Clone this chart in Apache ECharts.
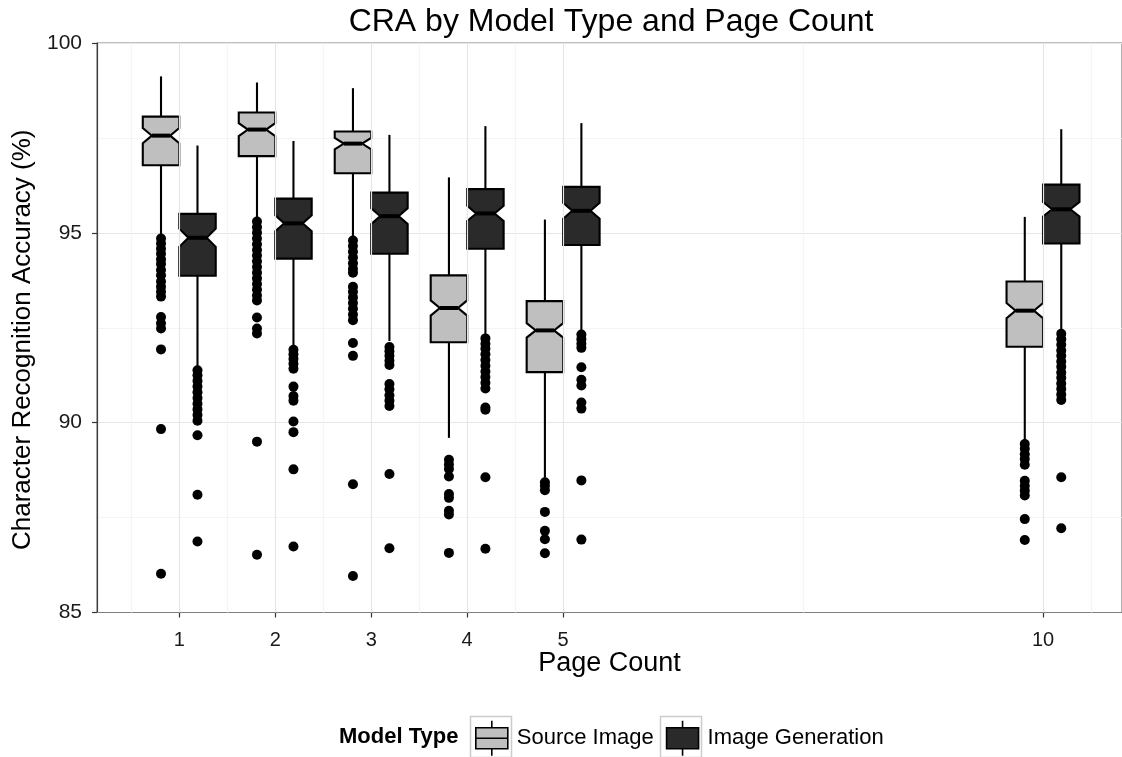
<!DOCTYPE html>
<html>
<head>
<meta charset="utf-8">
<script src="https://cdn.jsdelivr.net/npm/echarts@6/dist/echarts.min.js"></script>
<style>
html,body{margin:0;padding:0;background:#fff;}
#chart{width:1122px;height:757px;}
</style>
</head>
<body>
<div id="chart"></div>
<script>
// ---- data ----
const pages = [1, 2, 3, 4, 5, 10];
const xTickLabels = ['1', '2', '3', '4', '5', '10'];
const xMinorBreaks = [0.5, 1.5, 2.5, 3.5, 4.5, 7.5, 10.5];
const seriesNames = ['Source Image', 'Image Generation'];

// five-number summaries per page: [lower whisker, Q1, median, Q3, upper whisker]
const sourceBoxes = [
  [94.90, 96.78, 97.56, 98.06, 99.12],
  [95.35, 97.02, 97.72, 98.17, 98.96],
  [94.87, 96.57, 97.35, 97.67, 98.81],
  [89.60, 92.12, 93.02, 93.88, 96.46],
  [88.55, 91.33, 92.43, 93.20, 95.35],
  [89.50, 92.00, 92.95, 93.72, 95.42]
];
const generationBoxes = [
  [91.45, 93.87, 94.87, 95.50, 97.30],
  [91.98, 94.32, 95.25, 95.90, 97.42],
  [92.15, 94.45, 95.44, 96.06, 97.58],
  [92.30, 94.58, 95.51, 96.15, 97.81],
  [92.40, 94.68, 95.58, 96.21, 97.89],
  [92.43, 94.72, 95.62, 96.27, 97.73]
];
// notch half-heights (in %)
const sourceNotch = [0.20, 0.17, 0.15, 0.20, 0.19, 0.20];
const generationNotch = [0.24, 0.21, 0.21, 0.20, 0.21, 0.19];

// outliers per page
const sourceOutliers = [
  [94.85, 94.72, 94.58, 94.45, 94.30, 94.18, 94.02, 93.88, 93.72, 93.58, 93.45, 93.32, 92.78, 92.62, 92.48, 91.93, 89.83, 86.02],
  [95.30, 95.15, 95.00, 94.85, 94.70, 94.55, 94.40, 94.25, 94.10, 93.95, 93.80, 93.65, 93.50, 93.35, 93.22, 92.77, 92.48, 92.35, 89.50, 86.52],
  [94.80, 94.65, 94.50, 94.35, 94.20, 94.05, 93.95, 93.58, 93.45, 93.30, 93.15, 93.00, 92.85, 92.70, 92.10, 91.76, 88.38, 85.96],
  [89.02, 88.90, 88.78, 88.58, 88.12, 88.02, 87.68, 87.58, 86.57],
  [88.43, 88.34, 88.22, 87.65, 87.15, 86.93, 86.56],
  [89.44, 89.31, 89.17, 89.04, 88.89, 88.47, 88.34, 88.21, 88.08, 87.46, 86.91]
];
const generationOutliers = [
  [91.38, 91.25, 91.10, 90.95, 90.80, 90.65, 90.50, 90.35, 90.20, 90.05, 89.67, 88.10, 86.87],
  [91.92, 91.80, 91.68, 91.55, 91.42, 90.95, 90.70, 90.58, 90.03, 89.75, 88.77, 86.74],
  [91.99, 91.88, 91.76, 91.63, 91.52, 91.02, 90.88, 90.72, 90.58, 90.44, 88.65, 86.69],
  [92.22, 92.08, 91.95, 91.80, 91.65, 91.50, 91.35, 91.20, 91.05, 90.90, 90.40, 90.34, 88.56, 86.68],
  [92.32, 92.20, 92.08, 91.97, 91.46, 91.13, 90.98, 90.53, 90.37, 88.48, 86.92],
  [92.34, 92.20, 92.05, 91.90, 91.76, 91.61, 91.47, 91.32, 91.18, 91.03, 90.89, 90.74, 90.60, 88.56, 87.22]
];

// ---- styling constants ----
const FONT = '"Liberation Sans", Arial, Helvetica, sans-serif';
const COLORS = ['#bfbfbf', '#2a2a2a'];
const DODGE = 0.19;      // offset of each box from the page value
const HALF = 0.19;       // half box width
const NOTCH_INDENT = 0.25; // fraction of width removed on each side at the median
const LW = 2.1;

function boxData(boxes, notches) {
  return pages.map((p, i) => [p].concat(boxes[i]).concat([notches[i]]));
}
function outlierData(outs, offset) {
  const d = [];
  pages.forEach((p, i) => outs[i].forEach(v => d.push([p + offset, v])));
  return d;
}

function makeRender(offset, fill) {
  return function (params, api) {
    const x = api.value(0);
    const low = api.value(1), q1 = api.value(2), med = api.value(3), q3 = api.value(4), high = api.value(5), n = api.value(6);
    const cx = x + offset, x0 = cx - HALF, x1 = cx + HALF;
    const ind = HALF * 2 * NOTCH_INDENT;
    const P = (a, b) => api.coord([a, b]);
    const pts = [P(x0, q3), P(x1, q3), P(x1, med + n), P(x1 - ind, med), P(x1, med - n), P(x1, q1),
                 P(x0, q1), P(x0, med - n), P(x0 + ind, med), P(x0, med + n)];
    const top = P(cx, high), qt = P(cx, q3), qb = P(cx, q1), bot = P(cx, low);
    const m0 = P(x0 + ind, med), m1 = P(x1 - ind, med);
    return {
      type: 'group',
      children: [
        { type: 'line', shape: { x1: top[0], y1: top[1], x2: qt[0], y2: qt[1] }, style: { stroke: '#000', lineWidth: LW } },
        { type: 'line', shape: { x1: qb[0], y1: qb[1], x2: bot[0], y2: bot[1] }, style: { stroke: '#000', lineWidth: LW } },
        { type: 'polygon', shape: { points: pts }, style: { fill: fill, stroke: '#000', lineWidth: LW, lineJoin: 'miter' } },
        { type: 'line', shape: { x1: m0[0], y1: m0[1], x2: m1[0], y2: m1[1] }, style: { stroke: '#000', lineWidth: 4 } }
      ]
    };
  };
}

const gridLines = pages.map(v => ({ xAxis: v, lineStyle: { color: '#e6e6e6', width: 1.2, type: 'solid' } }))
  .concat(xMinorBreaks.map(v => ({ xAxis: v, lineStyle: { color: '#f4f4f4', width: 1.2, type: 'solid' } })));

const chart = echarts.init(document.getElementById('chart'), null, { renderer: 'canvas' });
chart.setOption({
  animation: false,
  backgroundColor: '#ffffff',
  textStyle: { fontFamily: FONT },
  title: [
    { text: 'CRA by Model Type and Page Count', left: 611, top: 6, padding: 0, textAlign: 'center',
      textStyle: { fontSize: 32, fontWeight: 'normal', color: '#000', fontFamily: FONT } },
    { text: 'Model Type', left: 339, top: 726, padding: 0,
      textStyle: { fontSize: 22, fontWeight: 'bold', color: '#000', fontFamily: FONT } }
  ],
  legend: {
    data: [
      { name: seriesNames[0], icon: 'path://M0,7L32,7L32,28L0,28Z M16,0L16,7 M16,28L16,35 M0,17.5L32,17.5',
        itemStyle: { color: COLORS[0], borderColor: '#000', borderWidth: 1.6 } },
      { name: seriesNames[1], icon: 'path://M0,7L32,7L32,28L0,28Z M16,0L16,7 M16,28L16,35',
        itemStyle: { color: COLORS[1], borderColor: '#000', borderWidth: 1.6 } }
    ],
    orient: 'horizontal',
    left: 475, top: 720, padding: 0,
    itemWidth: 32, itemHeight: 35, itemGap: 12,
    selectedMode: false,
    textStyle: { fontSize: 22, color: '#000', fontFamily: FONT, padding: [0, 0, 0, 4] }
  },
  graphic: [
    { type: 'rect', shape: { x: 470.5, y: 716.5, width: 41, height: 41 }, style: { fill: 'none', stroke: '#cccccc', lineWidth: 1.5 }, z: -1 },
    { type: 'rect', shape: { x: 660.5, y: 716.5, width: 41, height: 41 }, style: { fill: 'none', stroke: '#cccccc', lineWidth: 1.5 }, z: -1 }
  ],
  grid: {
    left: 97, right: 0, top: 43, bottom: 144.5,
    show: true, borderColor: '#808080', borderWidth: 1.2, backgroundColor: 'transparent',
    outerBoundsMode: 'none'
  },
  xAxis: {
    type: 'value', min: 0.143, max: 10.823,
    name: 'Page Count', nameLocation: 'middle', nameGap: 38, nameMoveOverlap: false,
    nameTextStyle: { fontSize: 27, color: '#000', fontFamily: FONT },
    axisLine: { show: true, lineStyle: { color: '#808080', width: 1.2 } },
    axisTick: { show: true, customValues: pages, length: 5, lineStyle: { color: '#333', width: 1.2 } },
    axisLabel: { customValues: pages, formatter: v => xTickLabels[pages.indexOf(v)] !== undefined ? xTickLabels[pages.indexOf(v)] : '',
      fontSize: 20, color: '#1a1a1a', margin: 18, fontFamily: FONT },
    splitLine: { show: false }
  },
  yAxis: {
    type: 'value', min: 85, max: 100, interval: 5,
    name: 'Character Recognition Accuracy (%)', nameLocation: 'middle', nameGap: 58,
    nameTextStyle: { fontSize: 26, color: '#000', fontFamily: FONT, padding: [0, 24, 0, 0] },
    axisLine: { show: true, lineStyle: { color: '#404040', width: 1.2 } },
    axisTick: { show: true, length: 5, lineStyle: { color: '#333', width: 1.2 } },
    axisLabel: { fontSize: 21, color: '#1a1a1a', margin: 15, fontFamily: FONT },
    splitLine: { show: true, lineStyle: { color: '#e6e6e6', width: 1.2 } },
    minorTick: { show: false, splitNumber: 2 },
    minorSplitLine: { show: true, lineStyle: { color: '#f4f4f4', width: 1.2 } }
  },
  series: [
    {
      name: 'gridlines', type: 'scatter', data: [], z: 0, silent: true,
      markLine: { silent: true, symbol: ['none', 'none'], label: { show: false }, animation: false, data: gridLines }
    },
    {
      name: seriesNames[0], type: 'custom', z: 3,
      itemStyle: { color: COLORS[0] },
      encode: { x: 0, y: [1, 2, 3, 4, 5] },
      renderItem: makeRender(-DODGE, COLORS[0]),
      data: boxData(sourceBoxes, sourceNotch)
    },
    {
      name: seriesNames[1], type: 'custom', z: 3,
      itemStyle: { color: COLORS[1] },
      encode: { x: 0, y: [1, 2, 3, 4, 5] },
      renderItem: makeRender(DODGE, COLORS[1]),
      data: boxData(generationBoxes, generationNotch)
    },
    {
      name: 'Source Image outliers', type: 'scatter', z: 4, symbol: 'circle', symbolSize: 10,
      itemStyle: { color: '#000', opacity: 1 }, data: outlierData(sourceOutliers, -DODGE)
    },
    {
      name: 'Image Generation outliers', type: 'scatter', z: 4, symbol: 'circle', symbolSize: 10,
      itemStyle: { color: '#000', opacity: 1 }, data: outlierData(generationOutliers, DODGE)
    }
  ]
});
</script>
</body>
</html>
